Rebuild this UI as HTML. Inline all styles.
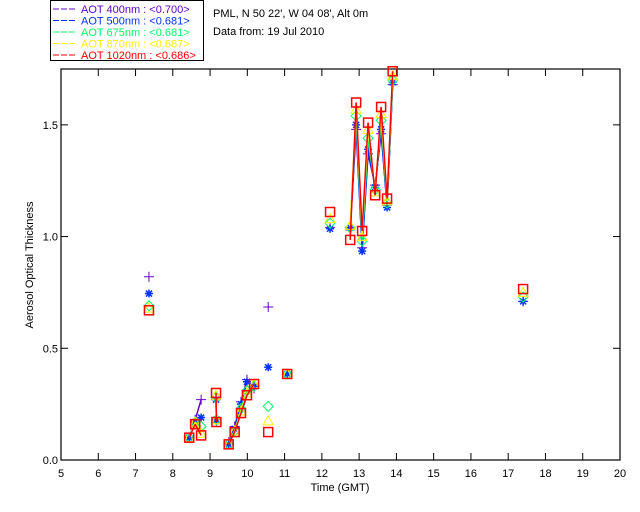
<!DOCTYPE html>
<html><head><meta charset="utf-8"><style>
body{margin:0;background:#fff;}
svg{display:block;font-family:"Liberation Sans",sans-serif;}
</style></head><body>
<svg id="chart" width="640" height="512">
<rect x="0" y="0" width="640" height="512" fill="#fff"/>
<g id="legend">
<rect x="50.5" y="0.5" width="153" height="60" fill="none" stroke="#000"/>
</g>
<text x="213" y="17" font-size="11">PML, N 50 22', W 04 08', Alt 0m</text>
<text x="213" y="35" font-size="11">Data from: 19 Jul 2010</text>
<g id="axes"></g>
<g id="marks"></g>
</svg>
<script>
const times=[7.36,8.44,8.6,8.76,9.16,9.17,9.5,9.66,9.83,9.99,10.18,10.56,11.07,12.22,12.76,12.92,13.08,13.24,13.43,13.59,13.75,13.9,17.4];
const aot400=[0.82,0.10,0.18,0.27,0.27,0.17,0.08,0.15,0.26,0.36,0.32,0.685,0.385,1.04,1.03,1.48,0.95,1.37,1.23,1.46,1.14,1.68,0.71];
const aot500=[0.745,0.10,0.17,0.19,0.27,0.18,0.07,0.14,0.25,0.35,0.33,0.415,0.385,1.035,1.04,1.50,0.935,1.39,1.22,1.48,1.13,1.69,0.71];
const aot675=[0.69,0.10,0.17,0.15,0.28,0.18,0.07,0.13,0.23,0.31,0.33,0.24,0.385,1.06,1.04,1.54,0.98,1.44,1.21,1.52,1.15,1.70,0.73];
const aot870=[0.68,0.10,0.17,0.12,0.29,0.18,0.07,0.13,0.22,0.30,0.34,0.175,0.385,1.08,1.05,1.57,1.00,1.48,1.20,1.55,1.16,1.72,0.75];
const aot1020=[0.67,0.10,0.16,0.11,0.30,0.17,0.07,0.125,0.21,0.29,0.34,0.125,0.385,1.11,0.985,1.60,1.025,1.51,1.185,1.58,1.17,1.74,0.765];
const seriesNames=["AOT  400nm : <0.700>","AOT  500nm : <0.681>","AOT  675nm : <0.681>","AOT  870nm : <0.687>","AOT 1020nm : <0.686>"];
const xTicks=[5,6,7,8,9,10,11,12,13,14,15,16,17,18,19,20];
const yTicks=[0,0.5,1.0,1.5];
const yTickLabels=["0.0","0.5","1.0","1.5"];

const NS="http://www.w3.org/2000/svg";
const X0=61,X1=620,Y0=460,Y1=69;
const xMin=5,xMax=20,yMin=0,yMax=1.75;
function sx(t){return X0+(t-xMin)/(xMax-xMin)*(X1-X0);}
function sy(v){return Y0-(v-yMin)/(yMax-yMin)*(Y0-Y1);}
function mk(tag,attrs,parent){const e=document.createElementNS(NS,tag);for(const k in attrs)e.setAttribute(k,attrs[k]);parent.appendChild(e);return e;}

const axes=document.getElementById('axes');
const frame=mk('rect',{x:X0,y:Y1,width:X1-X0,height:Y0-Y1,fill:'none',stroke:'#000','stroke-width':1.2},axes);


xTicks.forEach(t=>{
  const x=sx(t);
  mk('line',{x1:x,y1:Y0,x2:x,y2:Y0-7,stroke:'#000'},axes);
  mk('line',{x1:x,y1:Y1,x2:x,y2:Y1+7,stroke:'#000'},axes);
  const lb=mk('text',{x:x,y:Y0+17,'font-size':11,'text-anchor':'middle'},axes);
  lb.textContent=t;
  
  
});
yTicks.forEach((v,i)=>{
  const y=sy(v);
  mk('line',{x1:X0,y1:y,x2:X0+7,y2:y,stroke:'#000'},axes);
  mk('line',{x1:X1,y1:y,x2:X1-7,y2:y,stroke:'#000'},axes);
  const lb=mk('text',{x:X0-3,y:y+4,'font-size':11,'text-anchor':'end'},axes);
  lb.textContent=yTickLabels[i];
  
  
});
const xt=mk('text',{x:340,y:491,'font-size':11,'text-anchor':'middle'},axes);
xt.textContent="Time (GMT)";


const yt=mk('text',{x:33,y:265,'font-size':11,'text-anchor':'middle',transform:'rotate(-90 33 265)'},axes);
yt.textContent="Aerosol Optical Thickness";



const colors=["#6600cc","#0033ff","#00ff66","#ffee00","#ff0000"];
const data=[aot400,aot500,aot675,aot870,aot1020];
const legend=document.getElementById('legend');
seriesNames.forEach((n,i)=>{
  const y=9+i*11.5;
  mk('line',{x1:53,y1:y,x2:76,y2:y,stroke:colors[i],'stroke-dasharray':'6,2'},legend);
  const tx=mk('text',{x:81,y:y+4,'font-size':11,fill:colors[i],'xml:space':'preserve'},legend);
  tx.textContent=n;
  
  
});

function marker(i,x,y,g){
  const c=colors[i];
  if(i===0){mk('path',{d:`M${x-5} ${y}H${x+5}M${x} ${y-5}V${y+5}`,stroke:c,fill:'none'},g);}
  else if(i===1){mk('path',{d:`M${x-4} ${y}H${x+4}M${x} ${y-4}V${y+4}M${x-3} ${y-3}L${x+3} ${y+3}M${x-3} ${y+3}L${x+3} ${y-3}`,stroke:c,fill:'none','stroke-width':1.5},g);}
  else if(i===2){mk('path',{d:`M${x} ${y-5}L${x+5} ${y}L${x} ${y+5}L${x-5} ${y}Z`,stroke:c,fill:'none'},g);}
  else if(i===3){mk('path',{d:`M${x} ${y-5}L${x+5} ${y+4}L${x-5} ${y+4}Z`,stroke:c,fill:'none'},g);}
  else {mk('rect',{x:x-4.5,y:y-4.5,width:9,height:9,stroke:c,fill:'none','stroke-width':1.5},g);}
}
const marks=document.getElementById('marks');
data.forEach((vals,i)=>{
  const g=mk('g',{},marks);
  
  
  for(let k=1;k<times.length;k++){
    if(times[k]-times[k-1]<0.3){
      mk('line',{x1:sx(times[k-1]),y1:sy(vals[k-1]),x2:sx(times[k]),y2:sy(vals[k]),stroke:colors[i],'stroke-width':1.5},g);
    }
  }
  vals.forEach((v,k)=>marker(i,sx(times[k]),sy(v),g));
});
</script>
</body></html>
